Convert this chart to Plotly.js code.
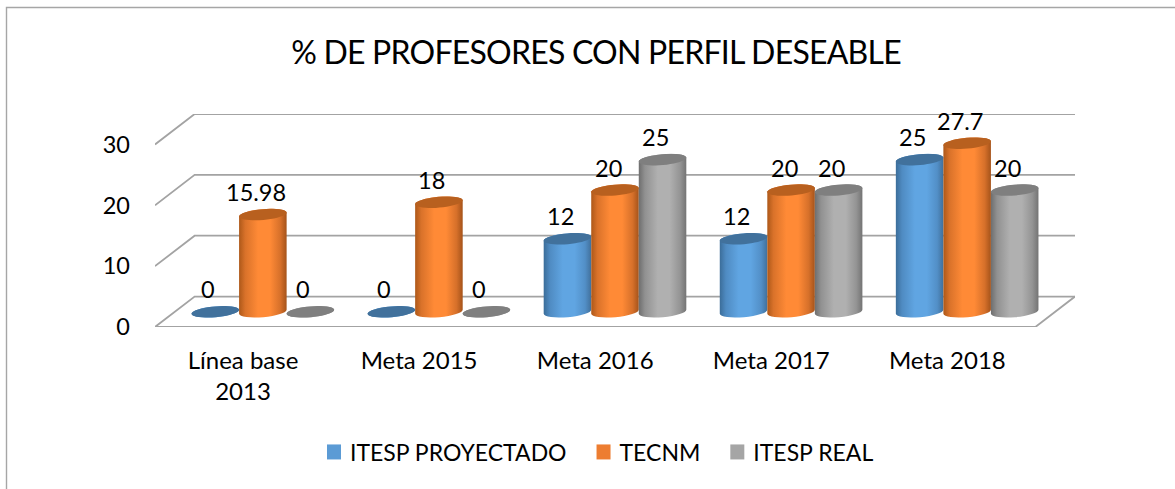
<!DOCTYPE html>
<html><head><meta charset="utf-8">
<script src="https://cdn.plot.ly/plotly-3.0.1.min.js"></script>
<style>html,body{margin:0;padding:0;background:#fff}#chart{width:1175px;height:489px}
.gtitle{letter-spacing:-0.77px}</style>
</head><body><div id="chart"></div>
<script>
const categories = ['Línea base<br>2013','Meta 2015','Meta 2016','Meta 2017','Meta 2018'];
const proyectado = [0,0,12,12,25];
const tecnm = [15.98,18,20,20,27.7];
const real = [0,0,25,20,20];
const seriesNames = ['ITESP PROYECTADO','TECNM','ITESP REAL'];
const flatColors = ['#5B9BD5','#ED7D31','#A5A5A5'];
const topColors = ['#41719C','#B8601F','#7F7F7F'];
const edgeL = ['#3B6D99','#AD5819','#6E6E6E'];
const shoulderL = ['#4F8BC2','#D9722A','#919191'];
const mid = ['#60A5E2','#FF8A36','#B0B0B0'];
const shoulderR = ['#528FC7','#D6702A','#949494'];
const edgeR = ['#41709B','#A5531A','#747474'];
const yTicks = [0,10,20,30];
const series = [proyectado,tecnm,real];

const dx = 0.1125, dy = 2.5, barW = 0.27;
const xIdx = categories.map((_,i)=>i);
const pxX = 920/(5+2*dx), pxY = 213/35;
const tilt = 5*Math.PI/180;
const aPx = barW*pxX/2/Math.cos(tilt), bPx = 5.4;

const shapes = [];
const gridLine = {color:'#A3A3A3',width:1.8};
yTicks.forEach(v=>{
  shapes.push({type:'path',layer:'below',xref:'x',yref:'y',line:gridLine,
    path:`M${-0.5-dx},${v-dy}L${-0.5+dx},${v+dy}L${4.5+dx},${v+dy}`});
});
shapes.push({type:'path',layer:'below',xref:'x',yref:'y',line:gridLine,
  path:`M${-0.5-dx},${-dy}L${4.5-dx},${-dy}L${4.5+dx},${dy}`});
// frame
const fx = p=>(p-155)/920, fy = p=>(327-p)/213;
shapes.push({type:'path',xref:'paper',yref:'paper',line:{color:'#A6A6A6',width:1.4},
  path:`M${fx(6.5)},${fy(489)}L${fx(6.5)},${fy(7.5)}L${fx(1175)},${fy(7.5)}`});

function ellipsePath(cx,cy){
  let p='';
  for(let k=0;k<40;k++){
    const t=k/40*2*Math.PI;
    const ex=aPx*Math.cos(t), ey=bPx*Math.sin(t);
    const sx=ex*Math.cos(tilt)+ey*Math.sin(tilt);
    const sy=ex*Math.sin(tilt)-ey*Math.cos(tilt);
    p+=(k?'L':'M')+(cx+sx/pxX).toFixed(4)+','+(cy+sy/pxY).toFixed(4);
  }
  return p+'Z';
}
const annotations = [];
series.forEach((vals,s)=>{
  vals.forEach((v,i)=>{
    const cx=i+(s-1)*barW;
    shapes.push({type:'path',layer:'above',xref:'x',yref:'y',fillcolor:topColors[s],
      line:{width:0},path:ellipsePath(cx,v)});
    annotations.push({x:cx,y:v,xref:'x',yref:'y',text:String(v),showarrow:false,
      xshift:-7,yshift:22.5,font:{family:'Lato, sans-serif',size:23.5,color:'#000'}});
  });
});

const traces = series.map((vals,s)=>({
  type:'bar',name:seriesNames[s],x:xIdx,y:vals,
  marker:{color:flatColors[s],line:{width:0}},hoverinfo:'x+y'
}));
const layout = {
  width:1175,height:489,
  margin:{l:155,r:100,t:114,b:162,pad:0},
  paper_bgcolor:'#fff',plot_bgcolor:'rgba(0,0,0,0)',
  font:{family:'Lato, sans-serif',color:'#000'},
  barmode:'group',bargap:0.19,bargroupgap:0,
  title:{text:'% DE PROFESORES CON PERFIL DESEABLE',font:{family:'Lato, sans-serif',size:32,color:'#000'},
    x:596/1175,xanchor:'center',y:1-53/489,yanchor:'middle'},
  xaxis:{range:[-0.5-dx,4.5+dx],tickmode:'array',tickvals:xIdx.map(i=>i-dx),ticktext:categories,
    showgrid:false,zeroline:false,showline:false,ticks:'',ticklabelstandoff:17,
    tickfont:{family:'Lato, sans-serif',size:24,color:'#000'}},
  yaxis:{range:[-dy,30+dy],tickmode:'array',tickvals:yTicks.map(v=>v-dy),ticktext:yTicks.map(String),
    showgrid:false,zeroline:false,showline:false,ticks:'',ticklabelstandoff:24,
    tickfont:{family:'Lato, sans-serif',size:23.5,color:'#000'}},
  legend:{orientation:'h',x:(310-155)/920,xanchor:'left',y:(327-452)/213,yanchor:'middle',
    font:{family:'Lato, sans-serif',size:23,color:'#000'},bgcolor:'rgba(0,0,0,0)'},
  shapes,annotations,showlegend:true
};
Plotly.newPlot('chart',traces,layout,{displayModeBar:false,responsive:false}).then(gd=>{
  const svg=gd.querySelector('svg.main-svg');
  const NS='http://www.w3.org/2000/svg';
  const defs=document.createElementNS(NS,'defs');
  series.forEach((_,s)=>{
    const g=document.createElementNS(NS,'linearGradient');
    g.setAttribute('id','cyl'+s);g.setAttribute('x1','0');g.setAttribute('x2','1');g.setAttribute('y1','0');g.setAttribute('y2','0');
    [[0,edgeL[s]],[0.13,shoulderL[s]],[0.4,mid[s]],[0.65,mid[s]],[0.87,shoulderR[s]],[1,edgeR[s]]].forEach(([o,c])=>{
      const st=document.createElementNS(NS,'stop');st.setAttribute('offset',o);st.setAttribute('stop-color',c);g.appendChild(st);
    });
    defs.appendChild(g);
  });
  svg.insertBefore(defs,svg.firstChild);
  gd.querySelectorAll('.barlayer .trace').forEach((tr,s)=>{
    tr.querySelectorAll('.point path').forEach(p=>{
      const m=(p.getAttribute('d')||'').match(/M([\d.]+),([\d.]+)V([\d.]+)H([\d.]+)V/);
      if(!m) return;
      const x0=+m[1],yb=+m[2],yt=+m[3],x1=+m[4];
      const hw=(x1-x0)/2, rise=hw*Math.tan(tilt);
      const a=hw/Math.cos(tilt), deg=-tilt*180/Math.PI;
      p.setAttribute('d',`M${x0},${yt+rise}L${x0},${yb+rise}A${a},${bPx} ${deg} 0 0 ${x1},${yb-rise}L${x1},${yt-rise}A${a},${bPx} ${deg} 0 0 ${x0},${yt+rise}Z`);
      p.style.fill=`url(#cyl${s})`;
    });
  });
  // legend swatch size and item spacing as in the reference
  gd.querySelectorAll('.legend .scrollbox, .legend').forEach(el=>el.removeAttribute('clip-path'));
  gd.querySelectorAll('.legend .scrollbox, .legend').forEach(el=>{el.style.clipPath='none';});
  gd.querySelectorAll('.legend .traces').forEach((tr,s)=>{
    const m=(tr.getAttribute('transform')||'').match(/translate\(([-\d.]+),\s*([-\d.]+)\)/);
    if(m) tr.setAttribute('transform',`translate(${+m[1]+s*8},${m[2]})`);
    tr.querySelectorAll('.legendpoints path').forEach(p=>p.setAttribute('d','M11,7.5H-3V-7.5H11Z'));
  });
});
</script></body></html>
